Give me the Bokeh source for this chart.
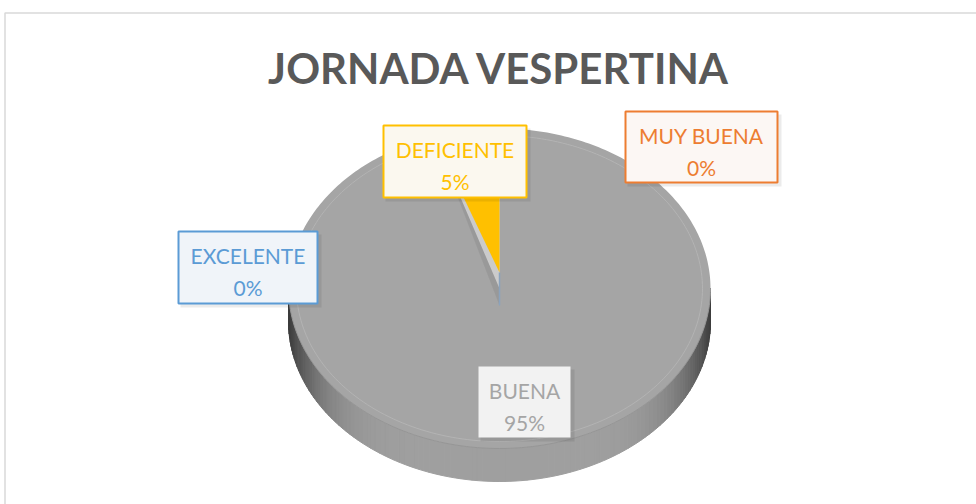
import numpy as np
from bokeh.plotting import figure
from bokeh.models import Range1d
from bokeh.core.properties import value
from bokeh.embed import file_html
from bokeh.resources import INLINE

# ---------------- data ----------------
title_text = "JORNADA VESPERTINA"
categories = ["EXCELENTE", "MUY BUENA", "BUENA", "DEFICIENTE"]
percent = [0, 0, 95, 5]
slice_colors = ["#5B9BD5", "#ED7D31", "#A5A5A5", "#FFC000"]

# ---------------- layout / style (page pixels) ----------------
label_style = {
    "EXCELENTE": dict(box=(178, 317, 231, 303), fill="#F0F4F9", border="#5B9BD5", color="#5B9BD5"),
    "MUY BUENA": dict(box=(625, 777, 111, 182), fill="#FCF7F4", border="#ED7D31", color="#ED7D31"),
    "BUENA": dict(box=(478, 570, 366, 437), fill="#F2F2F2", border=None, color="#A5A5A5"),
    "DEFICIENTE": dict(box=(383, 526, 125, 197), fill="#FBF8EF", border="#FFC000", color="#FFC000"),
}
cx, cy, ra, rb, depth = 499.0, 288.0, 211.0, 160.0, 33.0

p = figure(width=976, height=504, x_range=Range1d(0, 976), y_range=Range1d(504, 0),
           output_backend="svg", toolbar_location=None, min_border=0,
           background_fill_color="white", border_fill_color="white")
p.axis.visible = False
p.grid.visible = False
p.outline_line_color = None

# chart frame
p.line([4.5, 4.5, 990], [520, 12.5, 12.5], line_color="#D9D9D9", line_width=1.5)

# title
p.text(x=[499], y=[67], text=[title_text], text_align="center", text_baseline="middle",
       text_font=value("Lato"), text_font_style="bold", text_font_size="42px", text_color="#595959")

# ---------------- pie ----------------
total = float(sum(percent))
cum = np.concatenate([[0.0], np.cumsum(percent)]) / total * 2 * np.pi  # clockwise from 12 o'clock


def ell(theta, dy=0.0, a=ra, b=rb):
    return cx + a * np.sin(theta), cy - b * np.cos(theta) + dy


# side face (front half) as shaded strips
th = np.linspace(np.pi / 2, 3 * np.pi / 2, 121)
xs_side, ys_side, cols_side = [], [], []
for t0, t1 in zip(th[:-1], th[1:]):
    x0, y0 = ell(t0)
    x1, y1 = ell(t1)
    xb0, yb0 = ell(t0, depth)
    xb1, yb1 = ell(t1, depth)
    xs_side.append([x0, x1, xb1, xb0])
    ys_side.append([y0, y1, yb1, yb0])
    tm = 0.5 * (t0 + t1)
    v = int(160 - 100 * abs(np.sin(tm)) ** 6)
    cols_side.append("#%02x%02x%02x" % (v, v, v))
p.patches(xs_side, ys_side, fill_color=cols_side, line_color=cols_side, line_width=1)

# top faces
for i, cat in enumerate(categories):
    a0, a1 = cum[i], cum[i + 1]
    if a1 - a0 <= 0:
        continue
    tt = np.linspace(a0, a1, max(3, int((a1 - a0) / (2 * np.pi) * 360)))
    ex, ey = ell(tt)
    if cat == "DEFICIENTE":
        # drop shadow of the small slice
        p.patch(np.concatenate([[cx], ex, [cx]]), np.concatenate([[cy + 17], ey, [cy + 17]]),
                fill_color="#8c8c8c", fill_alpha=0.45, line_color=None)
        apex = cy - 16
    else:
        apex = cy
    p.patch(np.concatenate([[cx], ex, [cx]]), np.concatenate([[apex], ey, [apex]]),
            fill_color=slice_colors[i], line_color=None)

# zero-value slices show as a thin edge
p.line([cx, cx], [cy - 16, cy + 17], line_color="#8BA3BD", line_width=1.5)

# bevel line and front edge
tb = np.linspace(0, 2 * np.pi, 241)
bx, by = ell(tb, 0, ra - 8, rb - 7)
p.line(bx, by, line_color="#B6B6B6", line_width=1, line_alpha=0.8)
tf = np.linspace(np.pi / 2, 3 * np.pi / 2, 121)
fx, fy = ell(tf)
p.line(fx, fy, line_color="#969696", line_width=1)

# ---------------- labels ----------------
for i, cat in enumerate(categories):
    st = label_style[cat]
    x0, x1, y0, y1 = st["box"]
    # soft shadow
    p.quad(left=[x0 + 2], right=[x1 + 4], top=[y0 + 3], bottom=[y1 + 4],
           fill_color="black", fill_alpha=0.08, line_color=None)
    p.quad(left=[x0], right=[x1], top=[y0], bottom=[y1], fill_color=st["fill"],
           line_color=st["border"], line_width=2)
    xc = 0.5 * (x0 + x1)
    p.text(x=[xc, xc], y=[y0 + 23.5, y0 + 55.5], text=[cat, "%d%%" % percent[i]],
           text_align="center", text_baseline="middle", text_font=value("Lato"),
           text_font_size="21px", text_color=st["color"])

open("out.html", "w").write(file_html(p, INLINE))
